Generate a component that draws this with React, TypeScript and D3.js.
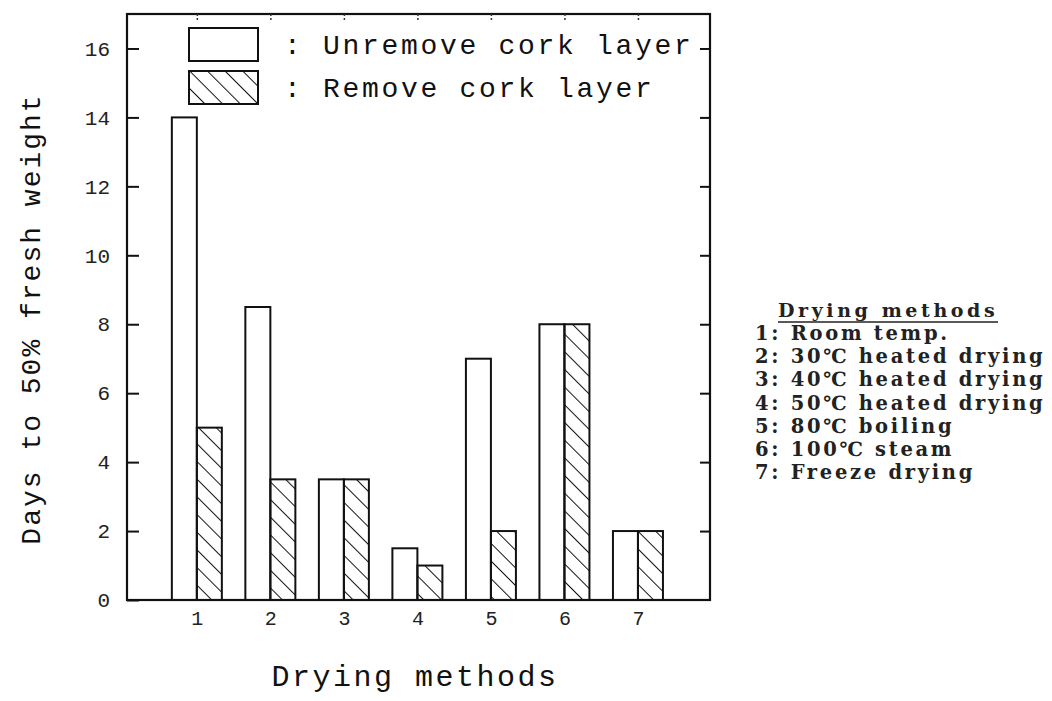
import { useRef, useEffect } from 'react';
import * as d3 from 'd3';

const METHODS = [1, 2, 3, 4, 5, 6, 7];
const UNREMOVED = [14, 8.5, 3.5, 1.5, 7, 8, 2];
const REMOVED = [5, 3.5, 3.5, 1, 2, 8, 2];
const Y_TICKS = [0, 2, 4, 6, 8, 10, 12, 14, 16];
const METHOD_NAMES = [
  '1: Room temp.',
  '2: 30℃ heated drying',
  '3: 40℃ heated drying',
  '4: 50℃ heated drying',
  '5: 80℃ boiling',
  '6: 100℃ steam',
  '7: Freeze drying',
];
const LEGEND_LABELS = [': Unremove cork layer', ': Remove cork layer'];

const MONO = '"Liberation Mono", "DejaVu Sans Mono", monospace';
const SERIF = '"DejaVu Serif", "Liberation Serif", serif';

export default function App() {
  const svgRef = useRef<SVGSVGElement>(null);
  const width = 1052;
  const height = 701;

  useEffect(() => {
    if (!svgRef.current) return;
    const svg = d3.select(svgRef.current);
    svg.selectAll('*').remove();

    const left = 127;
    const right = 710;
    const top = 14;
    const bottom = 600;

    const x = d3.scaleLinear().domain([0.05, 7.98]).range([left, right]);
    const y = d3.scaleLinear().domain([0, 17]).range([bottom, top]);
    const barW = 25;

    // hatch pattern
    const defs = svg.append('defs');
    defs
      .append('pattern')
      .attr('id', 'hatch')
      .attr('patternUnits', 'userSpaceOnUse')
      .attr('width', 12.5)
      .attr('height', 12.5)
      .attr('patternTransform', 'rotate(-45)')
      .append('line')
      .attr('x1', 0)
      .attr('y1', 0)
      .attr('x2', 0)
      .attr('y2', 12.5)
      .attr('stroke', '#111')
      .attr('stroke-width', 2);

    const g = svg.append('g');

    // bars
    g.selectAll('rect.open')
      .data(METHODS)
      .join('rect')
      .attr('class', 'open')
      .attr('x', (d) => x(d) - barW)
      .attr('y', (_, i) => y(UNREMOVED[i]))
      .attr('width', barW)
      .attr('height', (_, i) => y(0) - y(UNREMOVED[i]))
      .attr('fill', '#fff')
      .attr('stroke', '#111')
      .attr('stroke-width', 2);

    g.selectAll('rect.hatched')
      .data(METHODS)
      .join('rect')
      .attr('class', 'hatched')
      .attr('x', (d) => x(d))
      .attr('y', (_, i) => y(REMOVED[i]))
      .attr('width', barW)
      .attr('height', (_, i) => y(0) - y(REMOVED[i]))
      .attr('fill', 'url(#hatch)')
      .attr('stroke', '#111')
      .attr('stroke-width', 2);

    // frame
    g.append('rect')
      .attr('x', left)
      .attr('y', top)
      .attr('width', right - left)
      .attr('height', bottom - top)
      .attr('fill', 'none')
      .attr('stroke', '#111')
      .attr('stroke-width', 2.2);

    // left axis (inward ticks)
    const yAxisL = g
      .append('g')
      .attr('transform', `translate(${left},0)`)
      .call(
        d3
          .axisLeft(y)
          .tickValues(Y_TICKS)
          .tickSizeInner(-12)
          .tickSizeOuter(0)
          .tickPadding(17)
          .tickFormat(d3.format('d'))
      );
    yAxisL.select('.domain').remove();
    yAxisL.selectAll('line').attr('stroke', '#111').attr('stroke-width', 2);
    yAxisL
      .selectAll('text')
      .attr('font-family', MONO)
      .attr('font-size', 21)
      .attr('fill', '#222');

    // right axis ticks
    const yAxisR = g
      .append('g')
      .attr('transform', `translate(${right},0)`)
      .call(
        d3
          .axisRight(y)
          .tickValues(Y_TICKS.slice(1))
          .tickSizeInner(-10)
          .tickSizeOuter(0)
          .tickFormat(() => '')
      );
    yAxisR.select('.domain').remove();
    yAxisR.selectAll('line').attr('stroke', '#111').attr('stroke-width', 2);

    // bottom labels
    const xAxis = g
      .append('g')
      .attr('transform', `translate(0,${bottom})`)
      .call(
        d3
          .axisBottom(x)
          .tickValues(METHODS)
          .tickSize(0)
          .tickPadding(11)
          .tickFormat(d3.format('d'))
      );
    xAxis.select('.domain').remove();
    xAxis
      .selectAll('text')
      .attr('font-family', MONO)
      .attr('font-size', 20)
      .attr('fill', '#222');

    // top ticks
    const xAxisT = g
      .append('g')
      .attr('transform', `translate(0,${top})`)
      .call(
        d3
          .axisTop(x)
          .tickValues(METHODS)
          .tickSizeInner(-7)
          .tickSizeOuter(0)
          .tickFormat(() => '')
      );
    xAxisT.select('.domain').remove();
    xAxisT
      .selectAll('line')
      .attr('stroke', '#333')
      .attr('stroke-width', 1.5)
      .attr('stroke-dasharray', '2,2');

    // axis titles
    svg
      .append('text')
      .attr('transform', `translate(40,${(top + bottom) / 2 + 12}) rotate(-90)`)
      .attr('text-anchor', 'middle')
      .attr('font-family', MONO)
      .attr('font-size', 28)
      .attr('letter-spacing', 2)
      .attr('fill', '#111')
      .text('Days to 50% fresh weight');

    svg
      .append('text')
      .attr('x', 415)
      .attr('y', 686)
      .attr('text-anchor', 'middle')
      .attr('font-family', MONO)
      .attr('font-size', 30)
      .attr('letter-spacing', 2.5)
      .attr('fill', '#111')
      .text('Drying methods');

    // legend inside plot
    const legend = svg.append('g').attr('transform', 'translate(189,28)');
    LEGEND_LABELS.forEach((label, i) => {
      const row = legend.append('g').attr('transform', `translate(0,${i * 43})`);
      row
        .append('rect')
        .attr('width', 69)
        .attr('height', 33)
        .attr('fill', i === 0 ? '#fff' : 'url(#hatch)')
        .attr('stroke', '#111')
        .attr('stroke-width', 2);
      row
        .append('text')
        .attr('x', 95)
        .attr('y', 26)
        .attr('font-family', MONO)
        .attr('font-size', 28)
        .attr('letter-spacing', 2.7)
        .attr('fill', '#111')
        .text(label);
    });

    // methods key on the right
    const key = svg.append('g').attr('transform', 'translate(755,0)');
    key
      .append('text')
      .attr('x', 23)
      .attr('y', 317)
      .attr('font-family', SERIF)
      .attr('font-size', 19)
      .attr('font-weight', 'bold')
      .attr('letter-spacing', 3.6)
      .attr('fill', '#222')
      .text('Drying methods');
    key
      .append('line')
      .attr('x1', 23)
      .attr('x2', 243)
      .attr('y1', 322)
      .attr('y2', 322)
      .attr('stroke', '#222')
      .attr('stroke-width', 1.5);
    METHOD_NAMES.forEach((name, i) => {
      key
        .append('text')
        .attr('x', 0)
        .attr('y', 340 + i * 23.2)
        .attr('font-family', SERIF)
        .attr('font-size', 19.5)
        .attr('font-weight', 'bold')
        .attr('letter-spacing', 2.7)
        .attr('fill', '#222')
        .text(name);
    });
  }, []);

  return (
    <svg
      ref={svgRef}
      width={width}
      height={height}
      style={{ position: 'absolute', left: 0, top: 0, background: '#fff' }}
    />
  );
}
